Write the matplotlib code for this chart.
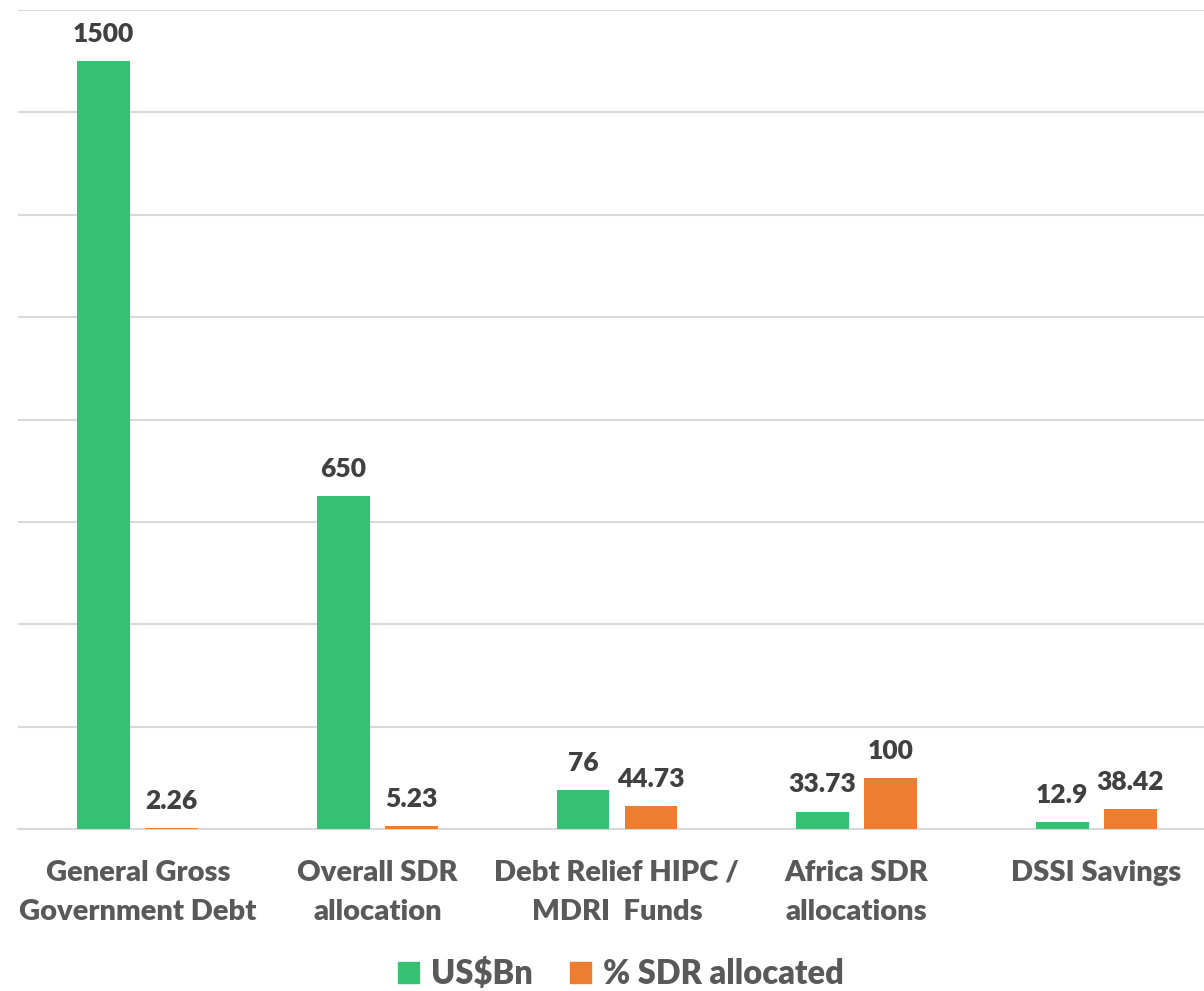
import numpy as np
import matplotlib.pyplot as plt
from matplotlib.patches import Patch

categories = ["General Gross\nGovernment Debt", "Overall SDR\nallocation",
              "Debt Relief HIPC /\nMDRI  Funds", "Africa SDR\nallocations", "DSSI Savings"]
usd_bn = [1500, 650, 76, 33.73, 12.9]
pct_sdr = [2.26, 5.23, 44.73, 100, 38.42]
usd_labels = ["1500", "650", "76", "33.73", "12.9"]
pct_labels = ["2.26", "5.23", "44.73", "100", "38.42"]

green = "#37c174"
orange = "#ed7d31"

plt.rcParams['font.family'] = ['Lato', 'DejaVu Sans']

fig = plt.figure(figsize=(12.04, 9.91), dpi=100)
W, H = 1204, 991
left, right, top, bottom = 18, 1216, 10, 829
ax = fig.add_axes([left / W, 1 - bottom / H, (right - left) / W, (bottom - top) / H])

x = np.arange(len(categories))
w = 0.221
off = 0.142
ax.bar(x - off, usd_bn, w, color=green, zorder=3)
ax.bar(x + off, pct_sdr, w, color=orange, zorder=3)

for xi, v, s in zip(x, usd_bn, usd_labels):
    ax.annotate(s, (xi - off, v), xytext=(0, 11), textcoords='offset points',
                ha='center', va='bottom', fontsize=19, fontweight='heavy', color='#404040')
for xi, v, s in zip(x, pct_sdr, pct_labels):
    ax.annotate(s, (xi + off, v), xytext=(0, 11), textcoords='offset points',
                ha='center', va='bottom', fontsize=19, fontweight='heavy', color='#404040')

ax.set_xlim(-0.5, len(categories) - 0.5)
ax.set_ylim(0, 1600)
ax.set_yticks(np.arange(0, 1601, 200))
ax.set_yticklabels([])
ax.tick_params(axis='y', length=0)
ax.grid(axis='y', color='#d9d9d9', linewidth=1.5, zorder=0)
ax.set_xticks(x)
ax.set_xticklabels(categories, fontsize=21, fontweight='heavy', color='#595959', linespacing=1.65)
ax.tick_params(axis='x', length=0, pad=22)
for sp in ['top', 'right', 'left']:
    ax.spines[sp].set_visible(False)
ax.spines['bottom'].set_color('#d9d9d9')
ax.spines['bottom'].set_linewidth(1.5)

handles = [Patch(color=green, label='US$Bn'), Patch(color=orange, label='% SDR allocated')]
fig.legend(handles=handles, loc='center', bbox_to_anchor=(621 / W, 1 - 974 / H), ncol=2,
           frameon=False, prop={'size': 23.5, 'weight': 'heavy'}, handlelength=0.65, handleheight=0.65,
           handletextpad=0.35, columnspacing=1.15, labelcolor='#595959')

fig.savefig('out.png', dpi=100)
